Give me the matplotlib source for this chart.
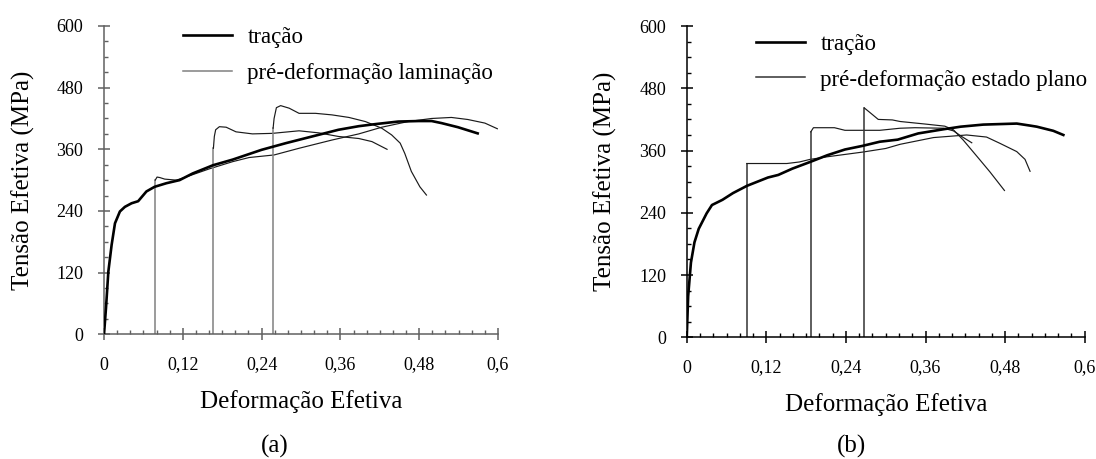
import matplotlib
matplotlib.use('Agg')
import matplotlib.pyplot as plt
from matplotlib.ticker import MultipleLocator

plt.rcParams['font.family'] = ['Liberation Serif', 'DejaVu Serif']

# --- (a) tracao + pre-deformacao laminacao ---
eps_tracao_a = [0, 0.003, 0.0066, 0.0116, 0.0167, 0.0242, 0.0318, 0.042, 0.052, 0.0646,
                0.077, 0.095, 0.115, 0.135, 0.166, 0.196, 0.240, 0.277, 0.317, 0.357,
                0.388, 0.413, 0.448, 0.479, 0.499, 0.514, 0.539, 0.569]
sig_tracao_a = [0, 51, 122, 174, 216, 239, 248, 255, 259, 278,
                287, 294, 300, 313, 329, 340, 359, 372, 385, 398,
                405, 409, 414, 415, 415, 411, 403, 391]

eps_lam1 = [0.078, 0.078, 0.0808, 0.085, 0.0924, 0.110, 0.120, 0.1605, 0.196, 0.221, 0.259,
            0.297, 0.347, 0.388, 0.423, 0.463, 0.499, 0.529, 0.554, 0.580, 0.599]
sig_lam1 = [0, 300, 306, 305, 302, 300, 304, 322, 336, 344, 349,
            362, 378, 390, 403, 414, 420, 422, 418, 411, 400]

eps_lam2 = [0.1666, 0.1666, 0.168, 0.170, 0.1757, 0.186, 0.201, 0.226, 0.256, 0.297,
            0.327, 0.357, 0.388, 0.408, 0.431]
sig_lam2 = [0, 362, 385, 398, 404, 403, 394, 390, 391, 396,
            392, 385, 381, 375, 360]

eps_lam3 = [0.2575, 0.2575, 0.259, 0.2625, 0.269, 0.282, 0.297, 0.322, 0.347, 0.373,
            0.398, 0.423, 0.438, 0.451, 0.458, 0.468, 0.481, 0.491]
sig_lam3 = [0, 401, 420, 441, 445, 440, 430, 430, 427, 422,
            414, 401, 388, 372, 352, 317, 287, 271]

# --- (b) tracao + pre-deformacao estado plano ---
eps_tracao_b = [0, 0.0021, 0.0063, 0.0116, 0.018, 0.030, 0.038, 0.0538, 0.0697, 0.0908,
                0.1066, 0.1224, 0.138, 0.159, 0.186, 0.212, 0.2385, 0.265, 0.291, 0.318,
                0.349, 0.387, 0.413, 0.447, 0.4975, 0.518, 0.5277, 0.5527, 0.5678]
sig_tracao_b = [0, 79, 144, 183, 209, 239, 255, 265, 278, 292,
                300, 308, 313, 325, 338, 351, 362, 369, 377, 381,
                393, 401, 406, 410, 412, 408, 406, 398, 390]

eps_pl1 = [0.0905, 0.0905, 0.120, 0.151, 0.170, 0.186, 0.212, 0.265, 0.30, 0.3216,
           0.372, 0.422, 0.452, 0.472, 0.4975, 0.51, 0.5176]
sig_pl1 = [0, 335, 335, 335, 338, 343, 348, 357, 364, 372,
           385, 390, 386, 374, 358, 343, 320]

eps_pl2 = [0.187, 0.187, 0.191, 0.2227, 0.2385, 0.291, 0.3216, 0.344, 0.387, 0.402, 0.4146, 0.4297]
sig_pl2 = [0, 396, 404, 404, 399, 399, 403, 404, 403, 398, 387, 375]

eps_pl3 = [0.2678, 0.2678, 0.2755, 0.2887, 0.310, 0.3216, 0.360, 0.389, 0.402, 0.417,
           0.442, 0.457, 0.479]
sig_pl3 = [0, 442, 434, 420, 419, 416, 411, 407, 400, 380,
           342, 319, 283]

xticks = [0, 0.12, 0.24, 0.36, 0.48, 0.6]
xtick_labels = ['0', '0,12', '0,24', '0,36', '0,48', '0,6']
yticks = [0, 120, 240, 360, 480, 600]
ytick_labels = ['0', '120', '240', '360', '480', '600']


def draw_panel(ax, tracao, curves, label, axis_color, vert_color, curve_color, leg_anchor):
    ax.plot(tracao[0], tracao[1], color='black', lw=1.9, label='tração', zorder=3)
    for i, (e, s) in enumerate(curves):
        # vertical segment at the pre-strain, then the reloading curve
        ax.plot(e[:2], s[:2], color=vert_color, lw=1.1,
                label=label if i == 0 else None)
        ax.plot(e[1:], s[1:], color=curve_color, lw=0.85)

    ax.set_xlim(0, 0.6)
    ax.set_ylim(0, 600)
    ax.set_xticks(xticks)
    ax.set_xticklabels(xtick_labels)
    ax.set_yticks(yticks)
    ax.set_yticklabels(ytick_labels)
    ax.xaxis.set_minor_locator(MultipleLocator(0.02))
    ax.yaxis.set_minor_locator(MultipleLocator(30))
    for side in ['top', 'right']:
        ax.spines[side].set_visible(False)
    for side in ['left', 'bottom']:
        ax.spines[side].set_color(axis_color)
        ax.spines[side].set_linewidth(1.1)
    ax.tick_params(which='major', direction='inout', length=8, width=1.1,
                   color=axis_color, labelsize=13, labelcolor='black')
    ax.tick_params(axis='x', which='major', pad=12)
    ax.tick_params(axis='y', which='major', pad=11)
    ax.tick_params(which='minor', direction='in', length=3, width=1.0, color=axis_color)

    ax.set_xlabel('Deformação Efetiva', fontsize=18, labelpad=12)
    ax.set_ylabel('Tensão Efetiva (MPa)', fontsize=18)
    ax.yaxis.set_label_coords(-0.175, 0.5)

    ax.legend(loc='upper left', bbox_to_anchor=leg_anchor, frameon=False,
              fontsize=16.6, handlelength=2.1, handletextpad=0.68,
              labelspacing=0.64, borderpad=0, borderaxespad=0)


fig = plt.figure(figsize=(10.96, 4.59), dpi=100)
ax_a = fig.add_axes([0.0949, 0.2717, 0.3595, 0.6717])
ax_b = fig.add_axes([0.6266, 0.2651, 0.3631, 0.6782])

draw_panel(ax_a, (eps_tracao_a, sig_tracao_a),
           [(eps_lam1, sig_lam1), (eps_lam2, sig_lam2), (eps_lam3, sig_lam3)],
           'pré-deformação laminação', '#606060', '#808080', '#1a1a1a', (0.201, 0.998))
draw_panel(ax_b, (eps_tracao_b, sig_tracao_b),
           [(eps_pl1, sig_pl1), (eps_pl2, sig_pl2), (eps_pl3, sig_pl3)],
           'pré-deformação estado plano', 'black', '#333333', '#1a1a1a', (0.175, 0.976))

fig.text(275 / 1096, 1 - 446 / 459, '(a)', fontsize=18, ha='center', va='center')
fig.text(851 / 1096, 1 - 446 / 459, '(b)', fontsize=18, ha='center', va='center')

fig.savefig('out.png', dpi=100)
